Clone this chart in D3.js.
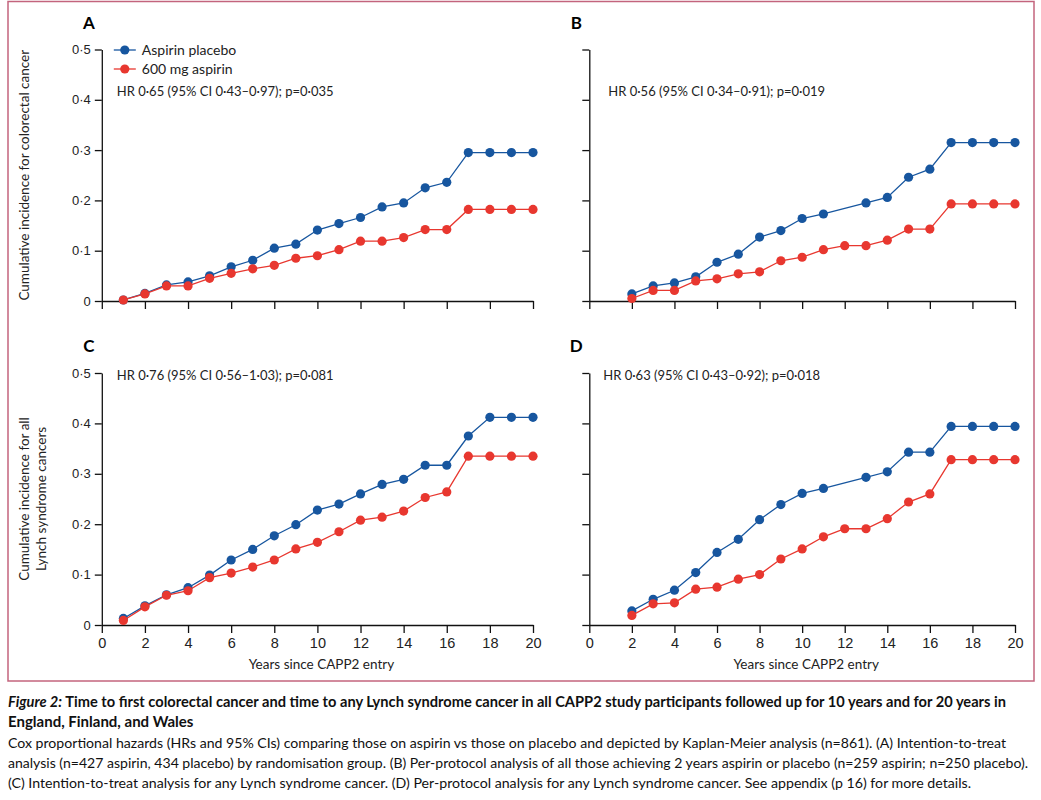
<!DOCTYPE html>
<html>
<head>
<meta charset="utf-8">
<script src="https://cdn.jsdelivr.net/npm/d3@7"></script>
<style>
  body { margin: 0; background: #fff; }
  svg { display: block; font-family: Lato, "Open Sans", sans-serif; }
</style>
</head>
<body>
<svg width="1041" height="800"></svg>
<script>
/* Data */
const yearsFull = [1, 2, 3, 4, 5, 6, 7, 8, 9, 10, 11, 12, 13, 14, 15, 16, 17, 18, 19, 20];
const yearsPP = [2, 3, 4, 5, 6, 7, 8, 9, 10, 11, 12, 13, 14, 15, 16, 17, 18, 19, 20];

// A: intention-to-treat, colorectal cancer
const placeboA = [0.002, 0.015, 0.032, 0.038, 0.050, 0.068, 0.081, 0.105, 0.113, 0.141, 0.154, 0.166, 0.187, 0.195, 0.225, 0.236, 0.295, 0.295, 0.295, 0.295];
const aspirinA = [0.002, 0.014, 0.030, 0.030, 0.045, 0.055, 0.064, 0.071, 0.085, 0.090, 0.102, 0.119, 0.119, 0.126, 0.142, 0.142, 0.182, 0.182, 0.182, 0.182];
// B: per-protocol, colorectal cancer (no placebo point at year 12)
const placeboB = [0.014, 0.030, 0.036, 0.048, 0.077, 0.093, 0.127, 0.140, 0.164, 0.173, null, 0.195, 0.206, 0.246, 0.262, 0.315, 0.315, 0.315, 0.315];
const aspirinB = [0.005, 0.021, 0.021, 0.040, 0.044, 0.054, 0.058, 0.080, 0.087, 0.102, 0.110, 0.110, 0.121, 0.143, 0.143, 0.193, 0.193, 0.193, 0.193];
// C: intention-to-treat, any Lynch syndrome cancer
const placeboC = [0.013, 0.038, 0.060, 0.074, 0.099, 0.129, 0.150, 0.177, 0.199, 0.228, 0.240, 0.260, 0.279, 0.289, 0.317, 0.317, 0.375, 0.412, 0.412, 0.412];
const aspirinC = [0.009, 0.036, 0.059, 0.068, 0.094, 0.103, 0.115, 0.129, 0.151, 0.164, 0.185, 0.208, 0.214, 0.226, 0.253, 0.264, 0.335, 0.335, 0.335, 0.335];
// D: per-protocol, any Lynch syndrome cancer
const placeboD = [0.028, 0.051, 0.069, 0.104, 0.144, 0.170, 0.209, 0.239, 0.261, 0.271, null, 0.293, 0.304, 0.343, 0.343, 0.394, 0.394, 0.394, 0.394];
const aspirinD = [0.019, 0.042, 0.044, 0.071, 0.075, 0.091, 0.100, 0.131, 0.151, 0.175, 0.191, 0.191, 0.211, 0.244, 0.260, 0.328, 0.328, 0.328, 0.328];

const seriesNames = ['Aspirin placebo', '600 mg aspirin'];
const hrLabels = [
  'HR 0·65 (95% CI 0·43–0·97); p=0·035',
  'HR 0·56 (95% CI 0·34–0·91); p=0·019',
  'HR 0·76 (95% CI 0·56–1·03); p=0·081',
  'HR 0·63 (95% CI 0·43–0·92); p=0·018'
];
const yTicks = [0, 0.1, 0.2, 0.3, 0.4, 0.5];
const xTicks = [0, 2, 4, 6, 8, 10, 12, 14, 16, 18, 20];

const captionTitle = [
  'Time to first colorectal cancer and time to any Lynch syndrome cancer in all CAPP2 study participants followed up for 10 years and for 20 years in',
  'England, Finland, and Wales'
];
const captionBody = [
  'Cox proportional hazards (HRs and 95% CIs) comparing those on aspirin vs those on placebo and depicted by Kaplan-Meier analysis (n=861). (A) Intention-to-treat',
  'analysis (n=427 aspirin, 434 placebo) by randomisation group. (B) Per-protocol analysis of all those achieving 2 years aspirin or placebo (n=259 aspirin; n=250 placebo).',
  '(C) Intention-to-treat analysis for any Lynch syndrome cancer. (D) Per-protocol analysis for any Lynch syndrome cancer. See appendix (p 16) for more details.'
];

/* Style */
const BLUE = '#17569f';
const RED = '#e8372f';
const FRAME = '#c3647d';
const fmt = d => d === 0 ? '0' : d3.format('.1f')(d).replace('.', '·');

/* Panels */
const panels = [
  { letter: 'A', years: yearsFull, placebo: placeboA, aspirin: aspirinA, hr: hrLabels[0],
    left: 101.8, right: 533, top: 49.5, bottom: 301, yLab: ['Cumulative incidence for colorectal cancer'],
    showY: true, showX: false, legend: true, hrY: 91, hrDx: 15 },
  { letter: 'B', years: yearsPP, placebo: placeboB, aspirin: aspirinB, hr: hrLabels[1],
    left: 589.3, right: 1015, top: 49.5, bottom: 301, yLab: [],
    showY: false, showX: false, legend: false, hrY: 91, hrDx: 19 },
  { letter: 'C', years: yearsFull, placebo: placeboC, aspirin: aspirinC, hr: hrLabels[2],
    left: 101.8, right: 533, top: 373, bottom: 625, yLab: ['Cumulative incidence for all', 'Lynch syndrome cancers'],
    showY: true, showX: true, legend: false, hrY: 375, hrDx: 15 },
  { letter: 'D', years: yearsPP, placebo: placeboD, aspirin: aspirinD, hr: hrLabels[3],
    left: 589.3, right: 1015, top: 373, bottom: 625, yLab: [],
    showY: false, showX: true, legend: false, hrY: 375, hrDx: 14 }
];

const svg = d3.select('svg');

/* Frame */
svg.append('rect')
  .attr('x', 8).attr('y', 1.5)
  .attr('width', 1026).attr('height', 679.5)
  .attr('fill', 'none')
  .attr('stroke', FRAME)
  .attr('stroke-width', 1.5);

panels.forEach(p => {
  const x = d3.scaleLinear().domain([0, 20]).range([p.left, p.right]);
  const y = d3.scaleLinear().domain([0, 0.5]).range([p.bottom, p.top]);
  const g = svg.append('g');

  // panel letter
  g.append('text')
    .attr('x', p.left - 13).attr('y', p.top - 21)
    .attr('text-anchor', 'middle')
    .attr('font-size', 17).attr('font-weight', 700)
    .text(p.letter);

  // y axis
  const yAxis = g.append('g')
    .attr('transform', `translate(${p.left},0)`)
    .call(d3.axisLeft(y).tickValues(yTicks).tickSize(7).tickSizeOuter(0)
      .tickFormat(p.showY ? fmt : ''));
  yAxis.selectAll('text').attr('font-size', 13).attr('fill', '#222').attr('dx', -1);

  // x axis
  const xAxis = g.append('g')
    .attr('transform', `translate(0,${p.bottom})`)
    .call(d3.axisBottom(x).tickValues(xTicks).tickSize(8).tickSizeOuter(0)
      .tickFormat(p.showX ? d3.format('d') : ''));
  xAxis.selectAll('text').attr('font-size', 14.5).attr('fill', '#222').attr('dy', '0.85em');
  g.selectAll('.domain, .tick line').attr('stroke', '#111').attr('stroke-width', 1.3);

  // axis titles
  p.yLab.forEach((t, i) => {
    g.append('text')
      .attr('transform', `translate(${p.left - 73 + i * 17},${(p.top + p.bottom) / 2}) rotate(-90)`)
      .attr('text-anchor', 'middle')
      .attr('font-size', 13.5).attr('fill', '#222')
      .text(t);
  });
  if (p.showX) {
    g.append('text')
      .attr('x', (p.left + p.right) / 2 + 4).attr('y', p.bottom + 44)
      .attr('text-anchor', 'middle')
      .attr('font-size', 13.5).attr('fill', '#222')
      .text('Years since CAPP2 entry');
  }

  // series
  [[p.placebo, BLUE], [p.aspirin, RED]].forEach(([vals, col]) => {
    const pts = p.years.map((yr, i) => [yr, vals[i]]).filter(d => d[1] != null);
    g.append('path')
      .datum(pts)
      .attr('fill', 'none')
      .attr('stroke', col)
      .attr('stroke-width', 1.3)
      .attr('d', d3.line().x(d => x(d[0])).y(d => y(d[1])));
    g.selectAll(null).data(pts).enter().append('circle')
      .attr('cx', d => x(d[0]))
      .attr('cy', d => y(d[1]))
      .attr('r', 4.6)
      .attr('fill', col);
  });

  // HR annotation
  g.append('text')
    .attr('x', p.left + p.hrDx)
    .attr('y', p.hrY + 5)
    .attr('font-size', 13).attr('fill', '#222')
    .text(p.hr);

  // legend
  if (p.legend) {
    seriesNames.forEach((name, i) => {
      const ly = p.top + 0.5 + i * 19;
      const col = i === 0 ? BLUE : RED;
      g.append('line')
        .attr('x1', p.left + 12).attr('x2', p.left + 34)
        .attr('y1', ly).attr('y2', ly)
        .attr('stroke', col).attr('stroke-width', 1.3);
      g.append('circle')
        .attr('cx', p.left + 23).attr('cy', ly).attr('r', 4.6).attr('fill', col);
      g.append('text')
        .attr('x', p.left + 40).attr('y', ly + 5)
        .attr('font-size', 14).attr('fill', '#222')
        .text(name);
    });
  }
});

/* Caption */
const cap = svg.append('g').attr('fill', '#111');
const t1 = cap.append('text')
  .attr('x', 8).attr('y', 707)
  .attr('font-size', 14.5).attr('font-weight', 700)
  .attr('textLength', 998).attr('lengthAdjust', 'spacingAndGlyphs');
t1.append('tspan').attr('font-style', 'italic').text('Figure 2: ');
t1.append('tspan').text(captionTitle[0]);
cap.append('text')
  .attr('x', 8).attr('y', 727)
  .attr('font-size', 15).attr('font-weight', 700)
  .text(captionTitle[1]);
const bodyWidths = [998, 1020, 963];
captionBody.forEach((line, i) => {
  cap.append('text')
    .attr('x', 8).attr('y', 748 + i * 20)
    .attr('font-size', 14)
    .attr('textLength', bodyWidths[i]).attr('lengthAdjust', 'spacingAndGlyphs')
    .text(line);
});
</script>
</body>
</html>
